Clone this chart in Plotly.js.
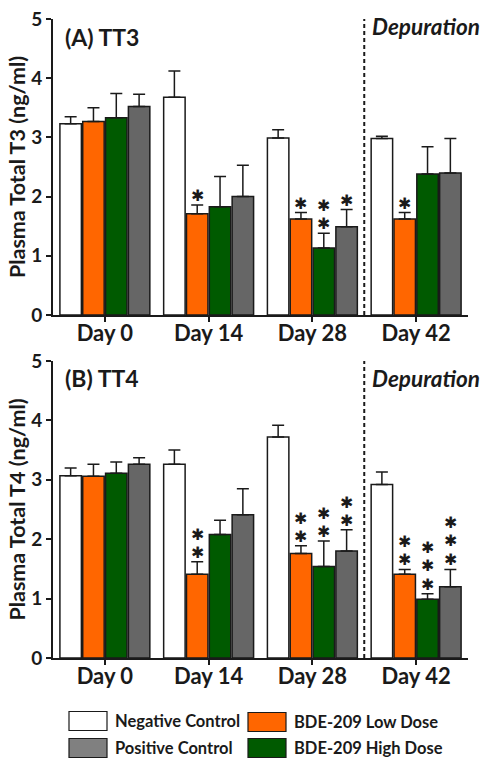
<!DOCTYPE html>
<html>
<head>
<meta charset="utf-8">
<script src="https://cdn.plot.ly/plotly-3.0.1.min.js"></script>
<style>html,body{margin:0;padding:0;background:#fff;}#chart{width:483px;height:758px;}</style>
</head>
<body>
<div id="chart"></div>
<script>
// ---- Data ----
const days = ['Day 0', 'Day 14', 'Day 28', 'Day 42'];
const seriesNames = ['Negative Control', 'BDE-209 Low Dose', 'BDE-209 High Dose', 'Positive Control'];
const yTickVals = [0, 1, 2, 3, 4, 5];

// Panel A: TT3 (ng/ml)
const tt3Neg = [3.23, 3.68, 2.99, 2.98];
const tt3Low = [3.27, 1.71, 1.62, 1.62];
const tt3High = [3.33, 1.83, 1.13, 2.38];
const tt3Pos = [3.52, 2.00, 1.49, 2.40];
const tt3NegErr = [0.12, 0.44, 0.14, 0.04];
const tt3LowErr = [0.23, 0.15, 0.11, 0.11];
const tt3HighErr = [0.41, 0.51, 0.25, 0.46];
const tt3PosErr = [0.21, 0.53, 0.29, 0.58];
const tt3NegStars = [0, 0, 0, 0];
const tt3LowStars = [0, 1, 1, 1];
const tt3HighStars = [0, 0, 2, 0];
const tt3PosStars = [0, 0, 1, 0];

// Panel B: TT4 (ng/ml)
const tt4Neg = [3.07, 3.26, 3.72, 2.92];
const tt4Low = [3.06, 1.41, 1.76, 1.41];
const tt4High = [3.11, 2.08, 1.54, 0.99];
const tt4Pos = [3.26, 2.41, 1.80, 1.20];
const tt4NegErr = [0.13, 0.24, 0.20, 0.21];
const tt4LowErr = [0.20, 0.21, 0.13, 0.08];
const tt4HighErr = [0.19, 0.24, 0.43, 0.09];
const tt4PosErr = [0.11, 0.44, 0.36, 0.29];
const tt4NegStars = [0, 0, 0, 0];
const tt4LowStars = [0, 2, 2, 2];
const tt4HighStars = [0, 0, 2, 3];
const tt4PosStars = [0, 0, 2, 3];

// ---- Styles ----
const FONT = 'Lato, "Open Sans", "DejaVu Sans", sans-serif';
const STAR_FONT = '"DejaVu Sans", sans-serif';
const INK = '#1a1a1a';
const fillColors = ['#ffffff', '#ff6600', '#005a00', '#666666'];
const legendColors = ['#ffffff', '#ff6600', '#005a00', '#808080'];
const W = 483, H = 758;
const M = {l: 53, r: 15, t: 19, b: 100};
const plotW = W - M.l - M.r, plotH = H - M.t - M.b;
const BARGAP = 0.12, BARGROUPGAP = 0.06;

const panels = [
  {vals: [tt3Neg, tt3Low, tt3High, tt3Pos], errs: [tt3NegErr, tt3LowErr, tt3HighErr, tt3PosErr],
   stars: [tt3NegStars, tt3LowStars, tt3HighStars, tt3PosStars], xa: 'x', ya: 'y'},
  {vals: [tt4Neg, tt4Low, tt4High, tt4Pos], errs: [tt4NegErr, tt4LowErr, tt4HighErr, tt4PosErr],
   stars: [tt4NegStars, tt4LowStars, tt4HighStars, tt4PosStars], xa: 'x2', ya: 'y2'}
];

const traces = [];
const annotations = [];
const catPx = plotW / days.length;
const slotPx = catPx * (1 - BARGAP) / seriesNames.length;
const STAR = '<span style="font-size:15.8px">\u2731</span>';

panels.forEach((p, pi) => {
  seriesNames.forEach((name, si) => {
    traces.push({
      type: 'bar', name: name, x: days, y: p.vals[si], xaxis: p.xa, yaxis: p.ya,
      showlegend: false,
      marker: {color: fillColors[si], line: {color: INK, width: 1.5}},
      error_y: {type: 'data', symmetric: false, array: p.errs[si], arrayminus: days.map(() => 0),
                color: INK, thickness: 1.5, width: 6}
    });
    days.forEach((d, di) => {
      const n = p.stars[si][di];
      if (n > 0) {
        annotations.push({
          xref: p.xa, yref: p.ya, x: d, y: p.vals[si][di] + p.errs[si][di],
          xshift: (si - 1.5) * slotPx, yshift: -1,
          text: Array(n).fill(STAR).join('<br>'), showarrow: false,
          xanchor: 'center', yanchor: 'bottom', borderpad: 0,
          font: {family: STAR_FONT, size: 14.2, color: INK}
        });
      }
    });
  });
});

// Panel labels
const panelLabels = ['(A) TT3', '(B) TT4'];
const panelYDomains = [['y domain', 0.940, 0.973], ['y2 domain', 0.944, 0.942]];
panelLabels.forEach((t, i) => {
  annotations.push({xref: 'paper', yref: panelYDomains[i][0], x: 0.025, y: panelYDomains[i][1],
    xanchor: 'left', yanchor: 'middle', showarrow: false, text: t,
    font: {family: FONT, size: 23, color: INK, weight: 'bold'}});
  annotations.push({xref: i === 0 ? 'x' : 'x2', yref: panelYDomains[i][0], x: 2.56, y: panelYDomains[i][2],
    xanchor: 'left', yanchor: 'middle', showarrow: false, text: '<i>Depuration</i>',
    font: {family: FONT, size: 22.5, color: INK, weight: 'bold'}});
});

// Manual legend (large swatches)
const legendOrder = [0, 1, 3, 2];
const legendPos = [[69, 721], [248, 722], [69, 748], [248, 748]];
const shapes = [];
const px2x = px => (px - M.l) / plotW;
const px2y = py => (H - M.b - py) / plotH;
legendOrder.forEach((si, k) => {
  const [lx, cy] = legendPos[k];
  shapes.push({type: 'rect', xref: 'paper', yref: 'paper',
    x0: px2x(lx), x1: px2x(lx + 38), y0: px2y(cy + 9.5), y1: px2y(cy - 9.5),
    fillcolor: legendColors[si], line: {color: INK, width: 1.2}});
  annotations.push({xref: 'paper', yref: 'paper', x: px2x(lx + 44), y: px2y(cy),
    xanchor: 'left', yanchor: 'middle', showarrow: false, text: seriesNames[si],
    font: {family: FONT, size: 16.5, color: INK, weight: 'bold'}});
});

// Depuration dashed dividers
['y', 'y2'].forEach((ya, i) => {
  shapes.push({type: 'line', xref: i === 0 ? 'x' : 'x2', yref: ya + ' domain',
    x0: 2.5, x1: 2.5, y0: 0, y1: 1, line: {color: INK, width: 2, dash: '4px,3px'}});
});

const xaxisBase = {
  type: 'category', range: [-0.5, 3.5], showline: true, linecolor: INK, linewidth: 2,
  ticks: 'outside', ticklen: 5, tickwidth: 2, tickcolor: INK, showgrid: false, zeroline: false,
  ticklabelstandoff: -7,
  tickfont: {family: FONT, size: 22, color: INK, weight: 'bold'}, fixedrange: true
};
const yaxisBase = {
  range: [0, 5], tickvals: yTickVals, showline: true, linecolor: INK, linewidth: 2,
  ticks: 'outside', ticklen: 5, tickwidth: 2, tickcolor: INK, showgrid: false, zeroline: false,
  tickfont: {family: FONT, size: 19, color: INK, weight: 'bold'}, fixedrange: true
};

const layout = {
  width: W, height: H, margin: M, paper_bgcolor: '#fff', plot_bgcolor: '#fff',
  barmode: 'group', bargap: BARGAP, bargroupgap: BARGROUPGAP, showlegend: false,
  font: {family: FONT, color: INK},
  xaxis: Object.assign({}, xaxisBase, {anchor: 'y', domain: [0, 1]}),
  xaxis2: Object.assign({}, xaxisBase, {anchor: 'y2', domain: [0, 1]}),
  yaxis: Object.assign({}, yaxisBase, {anchor: 'x', domain: [0.5368, 1],
    title: {text: 'Plasma Total T3 (ng/ml)', font: {family: FONT, size: 21.5, color: INK, weight: 'bold'}, standoff: 0}}),
  yaxis2: Object.assign({}, yaxisBase, {anchor: 'x2', domain: [0, 0.4648],
    title: {text: 'Plasma Total T4 (ng/ml)', font: {family: FONT, size: 21.5, color: INK, weight: 'bold'}, standoff: 0}}),
  shapes: shapes, annotations: annotations
};

Plotly.newPlot('chart', traces, layout, {displayModeBar: false, staticPlot: true});
</script>
</body>
</html>
